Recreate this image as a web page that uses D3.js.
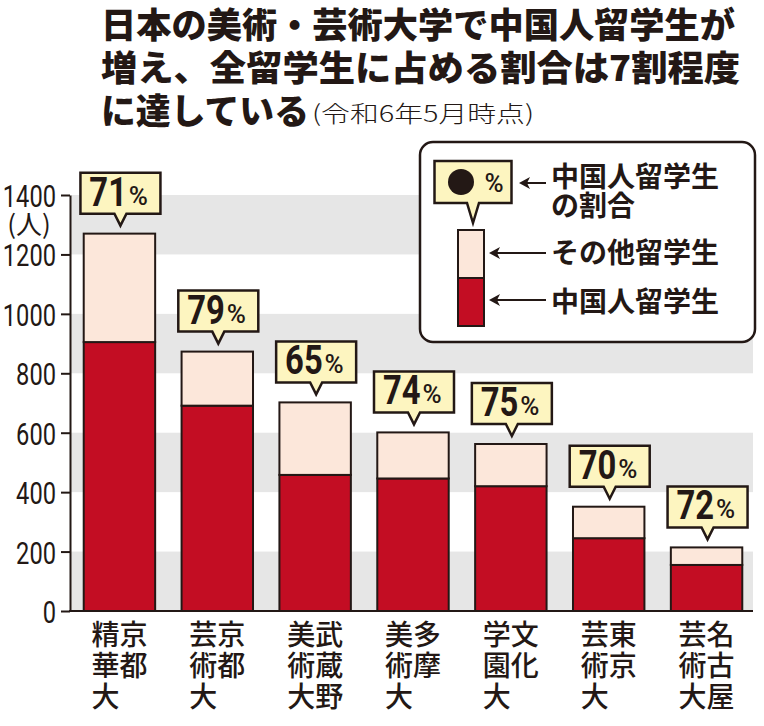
<!DOCTYPE html>
<html>
<head>
<meta charset="utf-8">
<script src="https://cdn.jsdelivr.net/npm/d3@7"></script>
<style>
  body { margin: 0; background: #fff; }
  svg { display: block; }
</style>
</head>
<body>
<div id="chart"></div>
<script>
// 大学名（縦書き：右の列→左の列）
const universities = ['京都精華大', '京都芸術大', '武蔵野美術大', '多摩美術大', '文化学園大', '東京芸術大', '名古屋芸術大'];
const labelColumns = [
  ['京都', '精華大'],
  ['京都', '芸術大'],
  ['武蔵野', '美術大'],
  ['多摩', '美術大'],
  ['文化', '学園大'],
  ['東京', '芸術大'],
  ['名古屋', '芸術大']
];
// 人数（絵から読み取り）
const chineseStudents = [905, 691, 458, 446, 420, 245, 155];
const otherStudents = [365, 182, 244, 155, 142, 106, 59];
const chineseShare = [71, 79, 65, 74, 75, 70, 72];
const yTicks = [0, 200, 400, 600, 800, 1000, 1200, 1400];

const width = 764;
const height = 726;
const ink = '#231815';
const red = '#c30d23';
const pink = '#fce7da';
const cream = '#fdf5c0';
const grey = '#e6e6e6';
const jp = '"Noto Sans CJK JP", "Noto Sans", sans-serif';

const svg = d3.select('#chart')
  .append('svg')
  .attr('width', width)
  .attr('height', height);

// タイトル
const title = svg.append('g').attr('font-family', jp).attr('fill', ink);
title.append('text')
  .attr('x', 101).attr('y', 38)
  .attr('font-size', 35).attr('font-weight', 900)
  .attr('textLength', 634).attr('lengthAdjust', 'spacingAndGlyphs')
  .text('日本の美術・芸術大学で中国人留学生が');
title.append('text')
  .attr('x', 101).attr('y', 81)
  .attr('font-size', 35).attr('font-weight', 900)
  .attr('textLength', 639).attr('lengthAdjust', 'spacingAndGlyphs')
  .text('増え、全留学生に占める割合は7割程度');
title.append('text')
  .attr('x', 101).attr('y', 124)
  .attr('font-size', 35).attr('font-weight', 900)
  .attr('textLength', 208).attr('lengthAdjust', 'spacingAndGlyphs')
  .text('に達している');
title.append('text')
  .attr('x', 312).attr('y', 122)
  .attr('font-size', 23).attr('font-weight', 300)
  .attr('textLength', 222).attr('lengthAdjust', 'spacingAndGlyphs')
  .text('(令和6年5月時点)');

// スケール
const y = d3.scaleLinear()
  .domain([0, 1400])
  .range([611, 195]);

const x = d3.scaleBand()
  .domain(universities)
  .range([71, 755])
  .paddingInner(0.27)
  .paddingOuter(0.13);

// 背景の縞
const bands = [];
for (let i = 0; i < yTicks.length - 1; i += 2) bands.push([yTicks[i], yTicks[i + 1]]);
svg.append('g')
  .selectAll('rect')
  .data(bands)
  .enter()
  .append('rect')
  .attr('x', 71)
  .attr('width', 753 - 71)
  .attr('y', d => y(d[1]))
  .attr('height', d => y(d[0]) - y(d[1]))
  .attr('fill', grey);

// 積み上げ
const table = universities.map((u, i) => ({ name: u, chinese: chineseStudents[i], other: otherStudents[i] }));
const stack = d3.stack().keys(['chinese', 'other']);
const series = stack(table);
const colors = { chinese: red, other: pink };

svg.append('g')
  .selectAll('g')
  .data(series)
  .enter()
  .append('g')
  .attr('fill', d => colors[d.key])
  .selectAll('rect')
  .data(d => d)
  .enter()
  .append('rect')
  .attr('x', d => x(d.data.name))
  .attr('width', x.bandwidth())
  .attr('y', d => y(d[1]))
  .attr('height', d => y(d[0]) - y(d[1]))
  .attr('stroke', ink)
  .attr('stroke-width', 2);

// 軸
const axis = svg.append('g')
  .attr('transform', 'translate(70,0)')
  .call(d3.axisLeft(y).tickValues(yTicks).tickFormat(d3.format('d')).tickSize(9).tickSizeOuter(0));
axis.select('.domain').attr('stroke', ink).attr('stroke-width', 2);
axis.selectAll('.tick line').attr('stroke', ink).attr('stroke-width', 2);
axis.selectAll('.tick text')
  .attr('font-family', 'Roboto, "Liberation Sans", sans-serif')
  .attr('font-size', 32)
  .attr('fill', ink)
  .attr('x', -14 / 0.74)
  .attr('dy', '0.36em')
  .attr('transform', 'scale(0.74,1)');

svg.append('line')
  .attr('x1', 69).attr('x2', 753)
  .attr('y1', y(0)).attr('y2', y(0))
  .attr('stroke', ink).attr('stroke-width', 2);

svg.append('text')
  .attr('x', 29).attr('y', 234)
  .attr('text-anchor', 'middle')
  .attr('font-family', jp)
  .attr('font-size', 26)
  .attr('fill', ink)
  .text('(人)');

// 吹き出し
function calloutPath(cx, top, w, h, tip) {
  const x0 = cx - w / 2, x1 = cx + w / 2;
  const y0 = top, y1 = top + h;
  return `M${x0},${y0}H${x1}V${y1}H${cx + 6}L${cx},${tip}L${cx - 6},${y1}H${x0}Z`;
}

const callouts = svg.append('g')
  .selectAll('g')
  .data(table)
  .enter()
  .append('g');

callouts.append('path')
  .attr('d', d => {
    const cx = x(d.name) + x.bandwidth() / 2;
    const barTop = y(d.chinese + d.other);
    return calloutPath(cx + 1, barTop - 61, 80, 41, barTop - 8);
  })
  .attr('fill', cream)
  .attr('stroke', ink)
  .attr('stroke-width', 2.5)
  .attr('stroke-linejoin', 'miter');

// 数字と%を別々に置く
const labelGroups = callouts.append('g')
  .attr('transform', d => {
    const cx = x(d.name) + x.bandwidth() / 2;
    const barTop = y(d.chinese + d.other);
    return `translate(${cx + 1},${barTop - 28})`;
  })
  .attr('fill', ink);

labelGroups.append('text')
  .attr('x', 8)
  .attr('text-anchor', 'end')
  .attr('font-family', 'Roboto, "Liberation Sans", sans-serif')
  .attr('font-weight', 700)
  .attr('font-size', 40)
  .attr('transform', 'scale(0.82,1)')
  .text((d, i) => chineseShare[i]);

labelGroups.append('text')
  .attr('x', 18)
  .attr('y', -1)
  .attr('text-anchor', 'middle')
  .attr('font-family', 'Roboto, "Liberation Sans", sans-serif')
  .attr('font-weight', 500)
  .style('font-size', '26px')
  .text('%');

// 横軸ラベル（縦書き）
const labels = svg.append('g')
  .attr('font-family', jp)
  .attr('font-size', 28)
  .attr('font-weight', 500)
  .attr('fill', ink)
  .attr('text-anchor', 'middle');

universities.forEach((u, i) => {
  const cx = x(u) + x.bandwidth() / 2;
  labelColumns[i].forEach((col, c) => {
    const colX = c === 0 ? cx + 14 : cx - 14;
    Array.from(col).forEach((ch, r) => {
      labels.append('text')
        .attr('x', colX)
        .attr('y', 645 + r * 31)
        .text(ch);
    });
  });
});

// 凡例
const legend = svg.append('g').attr('class', 'legend');
legend.append('rect')
  .attr('x', 420).attr('y', 142)
  .attr('width', 335).attr('height', 200)
  .attr('rx', 13)
  .attr('fill', '#fff')
  .attr('stroke', ink)
  .attr('stroke-width', 2.5);

legend.append('path')
  .attr('d', calloutPath(473, 161, 77, 42, 223))
  .attr('fill', cream)
  .attr('stroke', ink)
  .attr('stroke-width', 2.5);
legend.append('circle')
  .attr('cx', 461).attr('cy', 182).attr('r', 13)
  .attr('fill', ink);
legend.append('text')
  .attr('x', 494).attr('y', 192)
  .attr('text-anchor', 'middle')
  .attr('font-family', 'Roboto, sans-serif')
  .attr('font-weight', 500)
  .style('font-size', '26px')
  .attr('fill', ink)
  .text('%');

legend.append('rect')
  .attr('x', 458).attr('y', 230).attr('width', 26).attr('height', 48)
  .attr('fill', pink).attr('stroke', ink).attr('stroke-width', 2);
legend.append('rect')
  .attr('x', 458).attr('y', 278).attr('width', 26).attr('height', 48)
  .attr('fill', red).attr('stroke', ink).attr('stroke-width', 2);

const arrows = [
  { from: 546, to: 519, y: 183 },
  { from: 546, to: 489, y: 253 },
  { from: 546, to: 489, y: 300 }
];
arrows.forEach(a => {
  legend.append('line')
    .attr('x1', a.from).attr('x2', a.to + 6)
    .attr('y1', a.y).attr('y2', a.y)
    .attr('stroke', ink).attr('stroke-width', 2);
  legend.append('path')
    .attr('d', `M${a.to},${a.y}L${a.to + 11},${a.y - 6}L${a.to + 8},${a.y}L${a.to + 11},${a.y + 6}Z`)
    .attr('fill', ink);
});

const legendText = legend.append('g')
  .attr('font-family', jp)
  .attr('font-weight', 700)
  .attr('font-size', 28)
  .attr('fill', ink);
legendText.append('text').attr('x', 551).attr('y', 187).text('中国人留学生');
legendText.append('text').attr('x', 551).attr('y', 216).text('の割合');
legendText.append('text').attr('x', 551).attr('y', 263).text('その他留学生');
legendText.append('text').attr('x', 551).attr('y', 312).text('中国人留学生');
</script>
</body>
</html>
